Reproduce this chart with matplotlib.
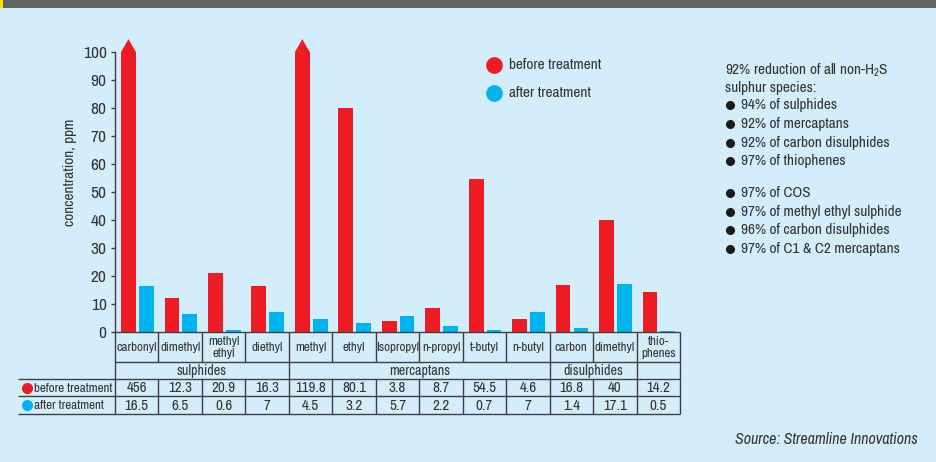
import matplotlib
matplotlib.use("Agg")
import matplotlib.pyplot as plt
from matplotlib.patches import Polygon, Rectangle
import numpy as np

FONT = ['Archivo Narrow', 'Liberation Sans Narrow', 'DejaVu Sans']
plt.rcParams['font.family'] = FONT
plt.rcParams['mathtext.fontset'] = 'custom'
plt.rcParams['mathtext.rm'] = 'Archivo Narrow'
plt.rcParams['mathtext.it'] = 'Archivo Narrow:italic'

# ---------------- data ----------------
compounds = ["carbonyl", "dimethyl", "methyl\nethyl", "diethyl", "methyl", "ethyl",
             "Isopropyl", "n-propyl", "t-butyl", "n-butyl", "carbon", "dimethyl",
             "thio-\nphenes"]
before = [456, 12.3, 20.9, 16.3, 119.8, 80.1, 3.8, 8.7, 54.5, 4.6, 16.8, 40, 14.2]
after = [16.5, 6.5, 0.6, 7, 4.5, 3.2, 5.7, 2.2, 0.7, 7, 1.4, 17.1, 0.5]
before_txt = ["456", "12.3", "20.9", "16.3", "119.8", "80.1", "3.8", "8.7", "54.5",
              "4.6", "16.8", "40", "14.2"]
after_txt = ["16.5", "6.5", "0.6", "7", "4.5", "3.2", "5.7", "2.2", "0.7", "7",
             "1.4", "17.1", "0.5"]
groups = ["sulphides", "mercaptans", "disulphides", ""]
group_sizes = [4, 6, 2, 1]
yticks = [0, 10, 20, 30, 40, 50, 60, 70, 80, 90, 100]
notes1 = ["94% of sulphides", "92% of mercaptans", "92% of carbon disulphides",
          "97% of thiophenes"]
notes2 = ["97% of COS", "97% of methyl ethyl sulphide", "96% of carbon disulphides",
          "97% of C1 & C2 mercaptans"]

# ---------------- style ----------------
BG = "#D3EEFA"
RED = "#ED1C24"
BLUE = "#00B5EF"
LINE = "#3f3f3f"
TXT = "#333333"
W, H = 937, 462

fig = plt.figure(figsize=(W / 100, H / 100), dpi=100)
fig.patch.set_facecolor(BG)

def fx(px):
    return px / W

def fy(py):
    return 1 - py / H

# top header band
fig.patches.append(Rectangle((0, fy(8)), 1, 8 / H, transform=fig.transFigure,
                             facecolor="#636466", edgecolor="none"))
fig.patches.append(Rectangle((0, fy(8)), 3 / W, 8 / H, transform=fig.transFigure,
                             facecolor="#FFE000", edgecolor="none"))

# ---------------- bar axes ----------------
x0, x1, ytop, ybot = 115, 680, 52, 332
ax = fig.add_axes([fx(x0), fy(ybot), fx(x1 - x0), (ybot - ytop) / H])
ax.set_facecolor("none")
n = len(compounds)
x = np.arange(n)
bw = 0.34
off_r, off_b = -0.19, 0.22
cap = 100
tip = 4.6
bvals = np.minimum(before, cap)
ax.bar(x + off_r, bvals, bw, color=RED, zorder=3)
ax.bar(x + off_b, after, bw, color=BLUE, zorder=3)
for xi, v in zip(x, before):
    if v > cap:
        cx = xi + off_r
        ax.add_patch(Polygon([[cx - bw / 2, cap], [cx + bw / 2, cap], [cx, cap + tip]],
                             closed=True, facecolor=RED, edgecolor="none",
                             clip_on=False, zorder=3))
ax.set_xlim(-0.5, n - 0.5)
ax.set_ylim(0, 100)
ax.set_yticks(yticks)
ax.set_xticks([])
for s in ["top", "right", "bottom"]:
    ax.spines[s].set_visible(False)
ax.spines["left"].set_color(LINE)
ax.spines["left"].set_linewidth(1.0)
ax.tick_params(axis="y", direction="out", length=3, width=1, color=LINE,
               labelsize=12.5, labelcolor=TXT, pad=3)
fig.text(fx(70), fy(172), "concentration, ppm", rotation=90, ha="center", va="center",
         fontsize=11, color=TXT)

# ---------------- table ----------------
tleft = 18
colw = (x1 - x0) / n
xl = -0.5 - (x0 - tleft) / colw
tax = fig.add_axes([fx(tleft), fy(414), fx(x1 - tleft), (414 - 332) / H])
tax.set_xlim(xl, n - 0.5)
tax.set_ylim(414, 332)
tax.axis("off")
tax.set_facecolor("none")
rows = [332, 362, 379, 396, 414]
lk = dict(color=LINE, lw=1.0, clip_on=False, solid_capstyle="butt")
tax.plot([-0.5, n - 0.5], [rows[0]] * 2, **lk)
tax.plot([-0.5, n - 0.5], [rows[1]] * 2, **lk)
for r in rows[2:]:
    tax.plot([xl, n - 0.5], [r] * 2, **lk)
for k in range(n + 1):
    xb = k - 0.5
    tax.plot([xb, xb], [rows[0], rows[1]], **lk)
    tax.plot([xb, xb], [rows[2], rows[4]], **lk)
bounds = np.concatenate([[0], np.cumsum(group_sizes)]) - 0.5
for b in bounds:
    tax.plot([b, b], [rows[1], rows[2]], **lk)
tfs = 9.4
nfs = 10.8
for i, name in enumerate(compounds):
    tax.text(i, (rows[0] + rows[1]) / 2 + 0.5, name, ha="center", va="center",
             fontsize=tfs, color=TXT, linespacing=1.1)
    tax.text(i, (rows[2] + rows[3]) / 2 + 0.5, before_txt[i], ha="center", va="center",
             fontsize=nfs, color=TXT)
    tax.text(i, (rows[3] + rows[4]) / 2 + 0.5, after_txt[i], ha="center", va="center",
             fontsize=nfs, color=TXT)
for g, a, b in zip(groups, bounds[:-1], bounds[1:]):
    tax.text((a + b) / 2, (rows[1] + rows[2]) / 2 + 0.5, g, ha="center", va="center",
             fontsize=10.2, color=TXT)
# row labels with markers
for yy, lab, col in [((rows[2] + rows[3]) / 2, "before treatment", RED),
                     ((rows[3] + rows[4]) / 2, "after treatment", BLUE)]:
    tax.plot([xl + 9 / colw], [yy], "o", ms=7, color=col, clip_on=False)
    tax.text(xl + 16 / colw, yy + 0.5, lab, ha="left", va="center",
             fontsize=9.4, color=TXT)

# ---------------- legend ----------------
for yy, lab, col in [(65, "before treatment", RED), (93, "after treatment", BLUE)]:
    fig.lines.append(plt.Line2D([fx(494)], [fy(yy)], marker="o", ms=11, color=col,
                                transform=fig.transFigure))
    fig.text(fx(509), fy(yy), lab, ha="left", va="center", fontsize=11, color=TXT)

# ---------------- notes ----------------
nt = 11
fig.text(fx(725), fy(70), "92% reduction of all non-H$_2$S", ha="left", va="center",
         fontsize=nt, color=TXT)
fig.text(fx(725), fy(88), "sulphur species:", ha="left", va="center",
         fontsize=nt, color=TXT)
ys1 = [105, 124, 143, 161]
ys2 = [193, 212, 230, 249]
for ys, notes in [(ys1, notes1), (ys2, notes2)]:
    for yy, t in zip(ys, notes):
        fig.lines.append(plt.Line2D([fx(730)], [fy(yy)], marker="o", ms=5.5, color="#1a1a1a",
                                    transform=fig.transFigure))
        fig.text(fx(741), fy(yy), t, ha="left", va="center", fontsize=nt, color=TXT)

fig.text(fx(918), fy(440), "Source: Streamline Innovations", ha="right", va="center",
         fontsize=11.5, style="italic", color=TXT)

fig.savefig("out.png", dpi=100, facecolor=BG)
